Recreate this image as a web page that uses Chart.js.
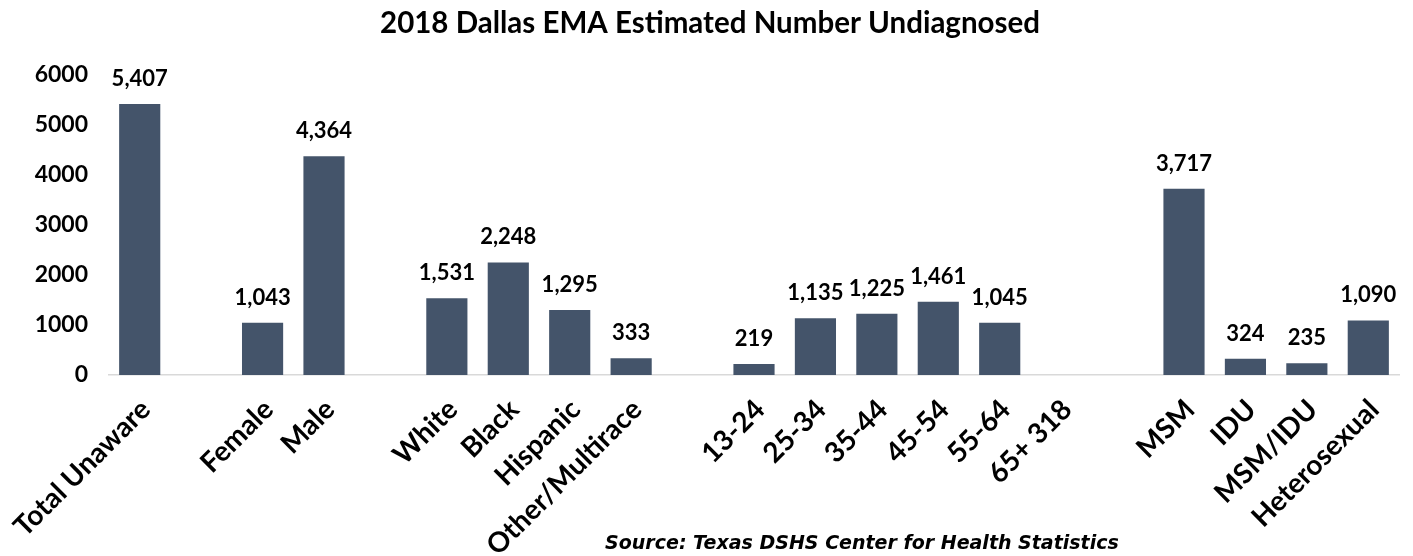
<!DOCTYPE html>
<html>
<head>
<meta charset="utf-8">
<script src="https://cdn.jsdelivr.net/npm/chart.js@4.4.1/dist/chart.umd.min.js"></script>
<style>
  html, body { margin: 0; padding: 0; background: #ffffff; }
  #wrap { width: 1413px; height: 556px; position: relative; }
</style>
</head>
<body>
<div id="wrap"><canvas id="c" width="1413" height="556"></canvas></div>
<script>
const titleText = "2018 Dallas EMA Estimated Number Undiagnosed";
const sourceText = "Source: Texas DSHS Center for Health Statistics";
const categories = ["Total Unaware", "", "Female", "Male", "", "White", "Black", "Hispanic", "Other/Multirace", "", "13-24", "25-34", "35-44", "45-54", "55-64", "65+ 318", "", "MSM", "IDU", "MSM/IDU", "Heterosexual"];
const undiagnosed = [5407, null, 1043, 4364, null, 1531, 2248, 1295, 333, null, 219, 1135, 1225, 1461, 1045, null, null, 3717, 324, 235, 1090];
const yTicks = [0, 1000, 2000, 3000, 4000, 5000, 6000];

const FONT = "Lato, 'Open Sans', sans-serif";

const valueLabels = {
  id: 'valueLabels',
  afterDatasetsDraw(chart) {
    const ctx = chart.ctx;
    const meta = chart.getDatasetMeta(0);
    ctx.save();
    ctx.font = "bold 22px " + FONT;
    ctx.fillStyle = "#000000";
    ctx.textAlign = "center";
    ctx.textBaseline = "alphabetic";
    meta.data.forEach((bar, i) => {
      const v = undiagnosed[i];
      if (v === null || v === undefined) return;
      ctx.fillText(v.toLocaleString('en-US'), bar.x, bar.y - 18);
    });
    ctx.restore();
  }
};

const sourceNote = {
  id: 'sourceNote',
  afterDraw(chart) {
    const ctx = chart.ctx;
    ctx.save();
    ctx.font = "italic bold 19px 'DejaVu Sans', Verdana, sans-serif";
    ctx.fillStyle = "#000000";
    ctx.textAlign = "center";
    ctx.textBaseline = "middle";
    ctx.fillText(sourceText, chart.width * 0.61, chart.height - 12);
    ctx.restore();
  }
};

new Chart(document.getElementById('c'), {
  type: 'bar',
  data: {
    labels: categories,
    datasets: [{
      data: undiagnosed,
      backgroundColor: '#44546A',
      borderWidth: 0,
      categoryPercentage: 1.0,
      barPercentage: 0.67
    }]
  },
  options: {
    responsive: false,
    animation: false,
    devicePixelRatio: 1,
    layout: { padding: { left: 7, right: 0, top: 0, bottom: 0 } },
    plugins: {
      legend: { display: false },
      tooltip: { enabled: false },
      title: {
        display: true,
        text: titleText,
        color: '#000000',
        font: { family: FONT, size: 29.5, weight: 'bold' },
        padding: { top: 6, bottom: 33 }
      }
    },
    scales: {
      x: {
        grid: { display: false, drawTicks: false },
        border: { display: true, color: '#D9D9D9', width: 1.5 },
        ticks: {
          autoSkip: false,
          maxRotation: 45,
          minRotation: 45,
          padding: 18,
          labelOffset: 6,
          color: '#000000',
          font: { family: FONT, size: 28, weight: 'bold' }
        },
        afterFit(scale) {
          scale.height = 181;
          scale.paddingLeft = 0;
          scale.paddingRight = 14;
        }
      },
      y: {
        min: 0,
        max: 6000,
        grid: { display: false, drawTicks: false },
        border: { display: false },
        afterBuildTicks(scale) { scale.ticks = yTicks.map(v => ({ value: v })); },
        ticks: {
          padding: 21,
          color: '#000000',
          font: { family: FONT, size: 23, weight: 'bold' },
          callback: (v) => String(v)
        },
        afterFit(scale) { scale.width = 102; }
      }
    }
  },
  plugins: [valueLabels, sourceNote]
});
</script>
</body>
</html>
